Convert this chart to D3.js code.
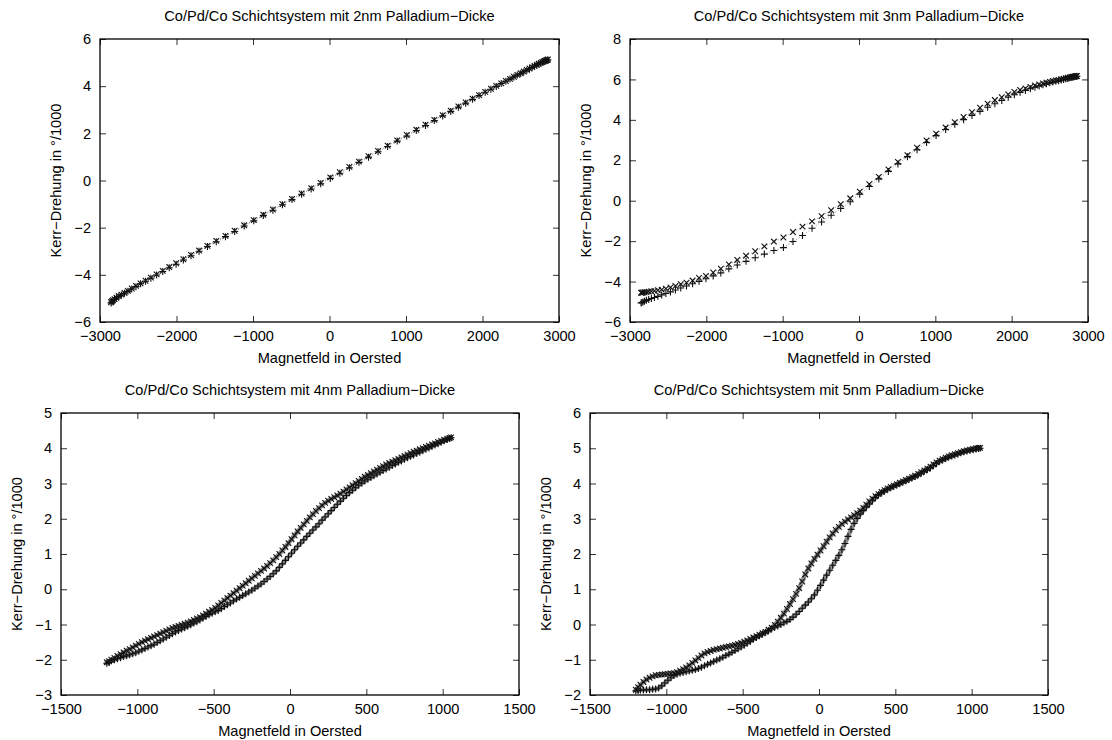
<!DOCTYPE html>
<html>
<head>
<meta charset="utf-8">
<script src="https://cdn.jsdelivr.net/npm/d3@7"></script>
<style>
    body { margin: 0; background: #fff; }
    text { font-family: "Liberation Sans", Arial, Helvetica, sans-serif; }
</style>
</head>
<body>
<div id="chart"></div>
<script>

// field sweep of the wide measurements (2nm, 3nm), in Oersted
let field_high = [-2855, -2845, -2830, -2810, -2785, -2755, -2720, -2680, -2635, -2585,
    -2530, -2470, -2405, -2335, -2260, -2180, -2095, -2005, -1910, -1810,
    -1705, -1595, -1480, -1360, -1240, -1115, -990, -865, -740, -615,
    -490, -365, -240, -115, 10, 135, 260, 385, 510, 635,
    760, 885, 1010, 1135, 1255, 1370, 1480, 1585, 1685, 1780,
    1870, 1955, 2035, 2110, 2180, 2245, 2305, 2360, 2410, 2455,
    2500, 2540, 2580, 2615, 2650, 2680, 2710, 2735, 2760, 2780,
    2800, 2815, 2830, 2845, 2855];

let kerr_2nm_up = [-5.19, -5.15, -5.10, -5.04, -4.98, -4.92, -4.86, -4.78, -4.70, -4.60,
    -4.50, -4.38, -4.27, -4.14, -4.01, -3.86, -3.70, -3.55, -3.37, -3.19,
    -3.00, -2.80, -2.60, -2.38, -2.16, -1.93, -1.71, -1.48, -1.26, -1.03,
    -0.81, -0.58, -0.36, -0.14, 0.09, 0.31, 0.54, 0.77, 0.99, 1.22,
    1.44, 1.67, 1.89, 2.12, 2.33, 2.54, 2.74, 2.93, 3.11, 3.28,
    3.44, 3.60, 3.74, 3.87, 3.99, 4.11, 4.21, 4.30, 4.39, 4.47,
    4.54, 4.61, 4.68, 4.74, 4.80, 4.85, 4.90, 4.94, 4.98, 5.01,
    5.04, 5.06, 5.08, 5.10, 5.12];

let kerr_2nm_down = [-5.16, -5.12, -5.08, -5.03, -4.97, -4.90, -4.84, -4.77, -4.68, -4.58,
    -4.47, -4.36, -4.25, -4.12, -3.98, -3.83, -3.67, -3.51, -3.34, -3.16,
    -2.97, -2.77, -2.56, -2.35, -2.13, -1.90, -1.68, -1.45, -1.23, -1.00,
    -0.78, -0.55, -0.33, -0.10, 0.13, 0.35, 0.58, 0.80, 1.03, 1.25,
    1.48, 1.70, 1.93, 2.15, 2.37, 2.57, 2.77, 2.96, 3.14, 3.31,
    3.47, 3.62, 3.76, 3.89, 4.01, 4.12, 4.22, 4.31, 4.40, 4.48,
    4.55, 4.62, 4.69, 4.75, 4.81, 4.86, 4.91, 4.95, 4.99, 5.02,
    5.05, 5.07, 5.09, 5.11, 5.13];

let kerr_3nm_up = [-5.06, -5.04, -5.01, -4.97, -4.93, -4.89, -4.84, -4.79, -4.73, -4.66,
    -4.59, -4.51, -4.42, -4.32, -4.22, -4.11, -3.99, -3.86, -3.72, -3.57,
    -3.37, -3.18, -3.00, -2.82, -2.64, -2.46, -2.32, -2.02, -1.72, -1.36,
    -1.05, -0.72, -0.38, -0.05, 0.32, 0.70, 1.08, 1.45, 1.82, 2.18,
    2.52, 2.88, 3.22, 3.52, 3.78, 4.01, 4.22, 4.42, 4.62, 4.80,
    4.96, 5.12, 5.24, 5.36, 5.45, 5.54, 5.61, 5.68, 5.74, 5.79,
    5.83, 5.87, 5.91, 5.94, 5.97, 6.00, 6.03, 6.05, 6.08, 6.10,
    6.11, 6.13, 6.14, 6.15, 6.16];

let kerr_3nm_down = [-4.55, -4.55, -4.54, -4.53, -4.52, -4.50, -4.48, -4.46, -4.43, -4.40,
    -4.35, -4.29, -4.22, -4.13, -4.05, -3.95, -3.82, -3.72, -3.55, -3.36,
    -3.15, -2.93, -2.72, -2.50, -2.26, -2.02, -1.82, -1.55, -1.28, -1.02,
    -0.76, -0.47, -0.17, 0.12, 0.45, 0.82, 1.18, 1.55, 1.92, 2.25,
    2.62, 2.98, 3.32, 3.62, 3.88, 4.14, 4.38, 4.60, 4.80, 4.98,
    5.12, 5.26, 5.38, 5.48, 5.56, 5.63, 5.70, 5.75, 5.80, 5.84,
    5.88, 5.92, 5.95, 5.98, 6.01, 6.04, 6.06, 6.08, 6.10, 6.12,
    6.13, 6.14, 6.15, 6.16, 6.17];

// field sweep of the narrow measurements (4nm, 5nm), in Oersted
let field_low = [-1200, -1185, -1170, -1150, -1130, -1110, -1090, -1070, -1050, -1030,
    -1010, -990, -970, -950, -930, -910, -890, -870, -850, -830,
    -810, -790, -770, -750, -730, -710, -690, -670, -650, -630,
    -610, -590, -570, -550, -530, -510, -490, -470, -450, -430,
    -410, -390, -370, -350, -330, -310, -290, -270, -250, -230,
    -210, -190, -170, -150, -130, -110, -90, -70, -50, -30,
    -10, 10, 30, 50, 70, 90, 110, 130, 150, 170,
    190, 210, 230, 250, 270, 290, 310, 330, 350, 370,
    390, 410, 430, 450, 470, 490, 510, 530, 550, 570,
    590, 610, 630, 650, 670, 690, 710, 730, 750, 770,
    790, 810, 830, 850, 870, 890, 910, 930, 950, 970,
    990, 1010, 1030, 1045, 1055];

let kerr_4nm_up = [-2.10, -2.08, -2.03, -2.00, -1.97, -1.94, -1.91, -1.89, -1.86, -1.83,
    -1.80, -1.76, -1.72, -1.68, -1.64, -1.60, -1.56, -1.51, -1.46, -1.41,
    -1.36, -1.31, -1.26, -1.21, -1.17, -1.13, -1.09, -1.05, -1.01, -0.96,
    -0.92, -0.87, -0.82, -0.77, -0.72, -0.68, -0.64, -0.60, -0.55, -0.49,
    -0.44, -0.39, -0.33, -0.28, -0.23, -0.18, -0.13, -0.08, -0.03, 0.03,
    0.09, 0.15, 0.22, 0.29, 0.36, 0.44, 0.52, 0.62, 0.72, 0.82,
    0.92, 1.02, 1.12, 1.22, 1.31, 1.40, 1.50, 1.59, 1.68, 1.77,
    1.86, 1.96, 2.05, 2.14, 2.23, 2.32, 2.41, 2.50, 2.58, 2.66,
    2.74, 2.81, 2.88, 2.95, 3.01, 3.07, 3.12, 3.17, 3.22, 3.27,
    3.32, 3.37, 3.41, 3.46, 3.51, 3.55, 3.60, 3.64, 3.69, 3.73,
    3.77, 3.81, 3.85, 3.89, 3.93, 3.97, 4.01, 4.05, 4.09, 4.13,
    4.17, 4.21, 4.25, 4.28, 4.30];

let kerr_4nm_down = [-2.07, -2.04, -2.00, -1.95, -1.89, -1.84, -1.79, -1.74, -1.70, -1.65,
    -1.60, -1.55, -1.50, -1.46, -1.42, -1.38, -1.34, -1.30, -1.26, -1.22,
    -1.18, -1.14, -1.10, -1.07, -1.04, -1.01, -0.98, -0.95, -0.91, -0.87,
    -0.83, -0.79, -0.74, -0.69, -0.64, -0.59, -0.53, -0.46, -0.39, -0.32,
    -0.25, -0.18, -0.11, -0.04, 0.03, 0.10, 0.17, 0.24, 0.31, 0.38,
    0.45, 0.52, 0.59, 0.66, 0.74, 0.82, 0.91, 1.00, 1.10, 1.20,
    1.31, 1.42, 1.53, 1.64, 1.74, 1.84, 1.94, 2.04, 2.13, 2.22,
    2.30, 2.38, 2.45, 2.51, 2.56, 2.61, 2.66, 2.71, 2.77, 2.83,
    2.89, 2.95, 3.01, 3.07, 3.13, 3.19, 3.24, 3.29, 3.34, 3.39,
    3.44, 3.49, 3.54, 3.58, 3.62, 3.66, 3.70, 3.74, 3.78, 3.82,
    3.86, 3.90, 3.93, 3.97, 4.00, 4.04, 4.07, 4.11, 4.14, 4.18,
    4.21, 4.24, 4.27, 4.29, 4.31];

let kerr_5nm_up = [-1.88, -1.87, -1.86, -1.86, -1.85, -1.85, -1.84, -1.83, -1.80, -1.74,
    -1.66, -1.58, -1.51, -1.45, -1.41, -1.38, -1.36, -1.34, -1.32, -1.30,
    -1.28, -1.25, -1.21, -1.17, -1.13, -1.09, -1.05, -1.01, -0.97, -0.93,
    -0.88, -0.84, -0.79, -0.74, -0.69, -0.64, -0.59, -0.53, -0.48, -0.42,
    -0.37, -0.32, -0.27, -0.22, -0.17, -0.12, -0.08, -0.04, 0.00, 0.05,
    0.09, 0.14, 0.21, 0.29, 0.37, 0.46, 0.55, 0.64, 0.73, 0.84,
    0.97, 1.11, 1.26, 1.40, 1.54, 1.68, 1.82, 1.96, 2.12, 2.30,
    2.50, 2.70, 2.87, 3.01, 3.13, 3.23, 3.33, 3.42, 3.51, 3.60,
    3.68, 3.74, 3.79, 3.84, 3.88, 3.92, 3.96, 4.00, 4.04, 4.08,
    4.12, 4.16, 4.20, 4.25, 4.30, 4.35, 4.40, 4.45, 4.51, 4.57,
    4.63, 4.67, 4.71, 4.75, 4.78, 4.81, 4.84, 4.87, 4.90, 4.92,
    4.94, 4.96, 4.98, 4.99, 5.00];

let kerr_5nm_down = [-1.85, -1.78, -1.71, -1.63, -1.56, -1.51, -1.47, -1.44, -1.43, -1.42,
    -1.41, -1.40, -1.39, -1.38, -1.35, -1.31, -1.27, -1.22, -1.16, -1.09,
    -1.02, -0.95, -0.88, -0.82, -0.78, -0.75, -0.72, -0.70, -0.68, -0.66,
    -0.64, -0.62, -0.60, -0.58, -0.55, -0.52, -0.49, -0.45, -0.41, -0.37,
    -0.33, -0.29, -0.25, -0.21, -0.15, -0.09, -0.01, 0.08, 0.19, 0.31,
    0.44, 0.58, 0.72, 0.87, 1.03, 1.22, 1.42, 1.59, 1.73, 1.86,
    1.98, 2.10, 2.22, 2.35, 2.47, 2.58, 2.68, 2.77, 2.85, 2.92,
    2.98, 3.04, 3.10, 3.16, 3.23, 3.31, 3.40, 3.49, 3.57, 3.64,
    3.70, 3.76, 3.81, 3.86, 3.90, 3.94, 3.98, 4.02, 4.06, 4.10,
    4.14, 4.18, 4.22, 4.27, 4.32, 4.37, 4.42, 4.48, 4.54, 4.60,
    4.65, 4.69, 4.73, 4.77, 4.80, 4.83, 4.86, 4.89, 4.92, 4.94,
    4.96, 4.98, 5.00, 5.01, 5.01];

let titles = ["Co/Pd/Co Schichtsystem mit 2nm Palladium\u2212Dicke",
              "Co/Pd/Co Schichtsystem mit 3nm Palladium\u2212Dicke",
              "Co/Pd/Co Schichtsystem mit 4nm Palladium\u2212Dicke",
              "Co/Pd/Co Schichtsystem mit 5nm Palladium\u2212Dicke"];

let x_ticks_high = [-3000, -2000, -1000, 0, 1000, 2000, 3000];
let x_ticks_low = [-1500, -1000, -500, 0, 500, 1000, 1500];
let y_ticks_2nm = [-6, -4, -2, 0, 2, 4, 6];
let y_ticks_3nm = [-6, -4, -2, 0, 2, 4, 6, 8];
let y_ticks_4nm = [-3, -2, -1, 0, 1, 2, 3, 4, 5];
let y_ticks_5nm = [-2, -1, 0, 1, 2, 3, 4, 5, 6];

let x_label = "Magnetfeld in Oersted";
let y_label = "Kerr\u2212Drehung in \u00b0/1000";


let chart_width = 1112;
let chart_height = 740;
let font_size = 14.6;
let tick_len = 6;

let svg = d3.select("#chart")
            .append("svg")
            .attr("width", chart_width)
            .attr("height", chart_height)
            .style("background", "#fff");

// dense: the low-field sweeps are measured so densely that the markers merge into a band
let panels = [
    { title: titles[0], field: field_high, up: kerr_2nm_up, down: kerr_2nm_down, dense: false,
      x_ticks: x_ticks_high, y_ticks: y_ticks_2nm, left: 100, top: 39, width: 459, height: 283 },
    { title: titles[1], field: field_high, up: kerr_3nm_up, down: kerr_3nm_down, dense: false,
      x_ticks: x_ticks_high, y_ticks: y_ticks_3nm, left: 630, top: 39, width: 458, height: 283 },
    { title: titles[2], field: field_low, up: kerr_4nm_up, down: kerr_4nm_down, dense: true,
      x_ticks: x_ticks_low, y_ticks: y_ticks_4nm, left: 61, top: 413, width: 458, height: 282 },
    { title: titles[3], field: field_low, up: kerr_5nm_up, down: kerr_5nm_down, dense: true,
      x_ticks: x_ticks_low, y_ticks: y_ticks_5nm, left: 590, top: 413, width: 458, height: 282 }
];

function style_axis(ax) {
    ax.select(".domain").remove();
    ax.selectAll(".tick line").attr("stroke", "#333").attr("stroke-width", 1);
    ax.selectAll(".tick text")
        .attr("fill", "#000")
        .style("font-family", "'Liberation Sans', Arial, sans-serif")
        .style("font-size", font_size + "px");
}

function draw_panel(p) {

    let g = svg.append("g")
               .attr("transform", "translate(" + p.left + "," + p.top + ")");

    let xScale = d3.scaleLinear()
                   .domain(d3.extent(p.x_ticks))
                   .range([0, p.width]);
    let yScale = d3.scaleLinear()
                   .domain(d3.extent(p.y_ticks))
                   .range([p.height, 0]);

    let fmt = d3.format("d");

    let x_axis = g.append("g")
        .attr("transform", "translate(0," + p.height + ")")
        .call(d3.axisBottom(xScale).tickValues(p.x_ticks).tickFormat(fmt)
              .tickSizeInner(-tick_len).tickSizeOuter(0).tickPadding(9));
    style_axis(x_axis);

    let y_axis = g.append("g")
        .call(d3.axisLeft(yScale).tickValues(p.y_ticks).tickFormat(fmt)
              .tickSizeInner(-tick_len).tickSizeOuter(0).tickPadding(9));
    style_axis(y_axis);

    // mirrored ticks on top and right, like gnuplot
    let top_axis = g.append("g")
        .call(d3.axisTop(xScale).tickValues(p.x_ticks).tickSizeInner(-tick_len).tickSizeOuter(0).tickFormat(""));
    style_axis(top_axis);
    let right_axis = g.append("g")
        .attr("transform", "translate(" + p.width + ",0)")
        .call(d3.axisRight(yScale).tickValues(p.y_ticks).tickSizeInner(-tick_len).tickSizeOuter(0).tickFormat(""));
    style_axis(right_axis);

    g.append("rect")
        .attr("x", 0)
        .attr("y", 0)
        .attr("width", p.width)
        .attr("height", p.height)
        .attr("fill", "none")
        .attr("stroke", "#000")
        .attr("stroke-width", 1.3);

    let n = Math.min(p.field.length, p.up.length, p.down.length);
    let pts_up = [], pts_down = [];
    for (let i = 0; i < n; i++) {
        pts_up.push([p.field[i], p.up[i]]);
        pts_down.push([p.field[i], p.down[i]]);
    }
    pts_down.reverse();

    let line = d3.line()
                 .x(function(d) { return xScale(d[0]); })
                 .y(function(d) { return yScale(d[1]); });

    if (p.dense) {
        // grey band of overlapping faint markers
        for (let pts of [pts_up, pts_down]) {
            g.append("path")
                .attr("d", line(pts))
                .attr("fill", "none")
                .attr("stroke", "#8c8c8c")
                .attr("stroke-width", 4.5)
                .attr("stroke-linecap", "round")
                .attr("stroke-linejoin", "round");
        }
    }
    else {
        // thin dotted connection between measurements
        g.append("path")
            .attr("d", line(pts_up.concat(pts_down)))
            .attr("fill", "none")
            .attr("stroke", "#777")
            .attr("stroke-width", 0.8)
            .attr("stroke-dasharray", "1,2");
    }

    let s = 3.5;
    g.selectAll(".pt_up")
        .data(pts_up)
        .enter()
        .append("path")
        .attr("class", "pt_up")
        .attr("d", function(d) {
            let x = xScale(d[0]), y = yScale(d[1]);
            return "M" + (x - s) + "," + y + "H" + (x + s) + "M" + x + "," + (y - s) + "V" + (y + s);
        })
        .attr("stroke", "#111")
        .attr("stroke-width", 1.1)
        .attr("fill", "none");

    let r = 2.8;
    g.selectAll(".pt_down")
        .data(pts_down)
        .enter()
        .append("path")
        .attr("class", "pt_down")
        .attr("d", function(d) {
            let x = xScale(d[0]), y = yScale(d[1]);
            return "M" + (x - r) + "," + (y - r) + "L" + (x + r) + "," + (y + r) +
                   "M" + (x - r) + "," + (y + r) + "L" + (x + r) + "," + (y - r);
        })
        .attr("stroke", "#111")
        .attr("stroke-width", 1.1)
        .attr("fill", "none");

    // title and axis labels
    g.append("text")
        .attr("x", p.width / 2)
        .attr("y", -18)
        .attr("text-anchor", "middle")
        .style("font-size", font_size + "px")
        .text(p.title);

    g.append("text")
        .attr("x", p.width / 2)
        .attr("y", p.height + 41)
        .attr("text-anchor", "middle")
        .style("font-size", font_size + "px")
        .text(x_label);

    g.append("text")
        .attr("transform", "translate(" + (-44) + "," + (p.height / 2) + ") rotate(-90)")
        .attr("dy", "0.35em")
        .attr("text-anchor", "middle")
        .style("font-size", font_size + "px")
        .text(y_label);
}

for (let p of panels) {
    draw_panel(p);
}

</script>
</body>
</html>
